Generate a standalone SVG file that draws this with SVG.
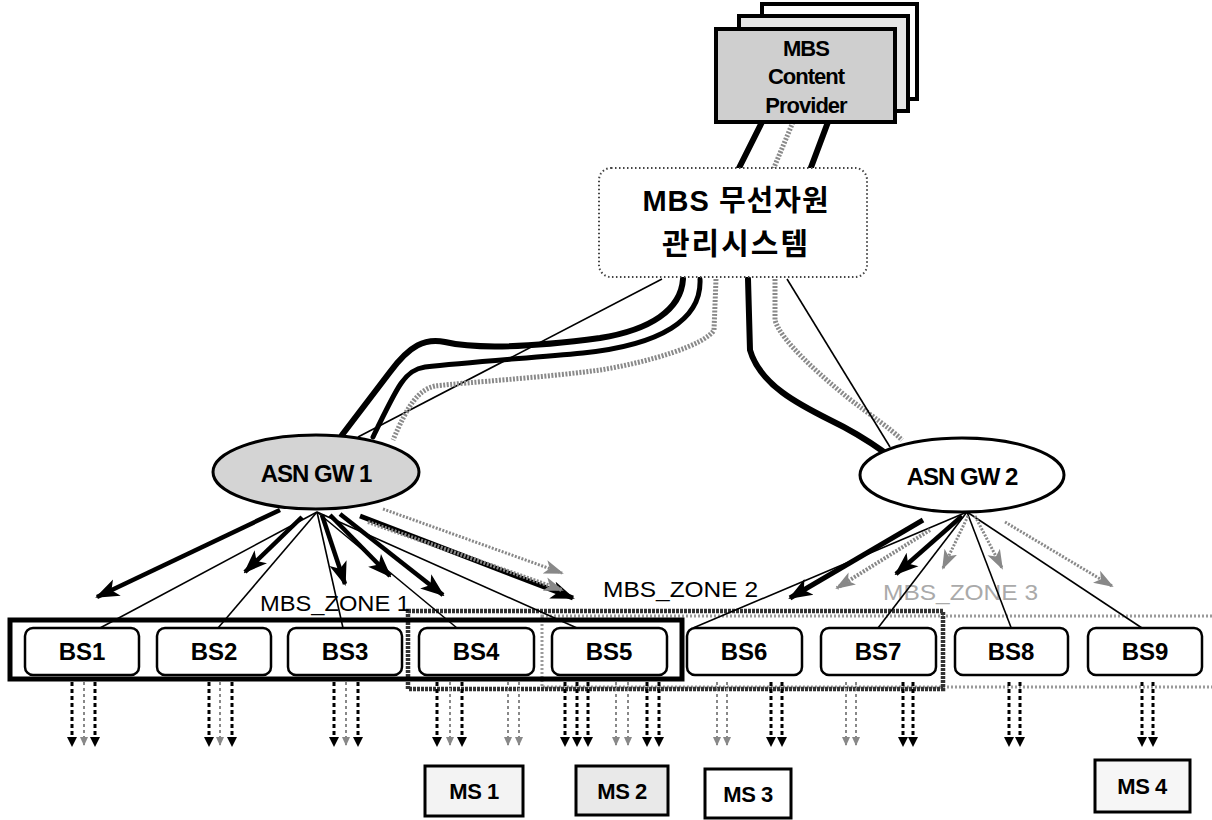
<svg xmlns="http://www.w3.org/2000/svg" width="1212" height="820" viewBox="0 0 1212 820">
<defs>
<marker id="ahB" markerUnits="userSpaceOnUse" markerWidth="24" markerHeight="20" refX="22" refY="10" orient="auto"><path d="M0,1 L24,10 L0,19 L6,10 Z" fill="#000"/></marker>
<marker id="ahG" markerUnits="userSpaceOnUse" markerWidth="20" markerHeight="16" refX="18" refY="8" orient="auto"><path d="M0,1 L20,8 L0,15 L5,8 Z" fill="#888"/></marker>
<marker id="ahSd" markerUnits="userSpaceOnUse" markerWidth="10" markerHeight="10" refX="5" refY="8" orient="0"><path d="M0,0 L10,0 L5,10 Z" fill="#000"/></marker>
<marker id="ahSl" markerUnits="userSpaceOnUse" markerWidth="10" markerHeight="10" refX="5" refY="8" orient="0"><path d="M1,0 L9,0 L5,9 Z" fill="#888"/></marker>
</defs>
<style>
text{font-family:"Liberation Sans","Noto Sans CJK KR",Arial,sans-serif;fill:#000}
.b{font-weight:bold}
.thick{fill:none;stroke:#000;stroke-width:6;stroke-linecap:round}
.gthick{fill:none;stroke:#8a8a8a;stroke-width:5;stroke-dasharray:2 1.5}
.thin{fill:none;stroke:#000;stroke-width:1.6}
.arr{fill:none;stroke:#000;stroke-width:4.5;marker-end:url(#ahB)}
.garr{fill:none;stroke:#888;stroke-width:4;stroke-dasharray:2 1.5;marker-end:url(#ahG)}
.dd{stroke:#000;stroke-width:3;stroke-dasharray:4 3;marker-end:url(#ahSd)}
.dl{stroke:#888;stroke-width:2;stroke-dasharray:3 3;marker-end:url(#ahSl)}
.bs{fill:#fff;stroke:#000;stroke-width:2.5}
.ms{stroke:#000;stroke-width:3}
</style>

<g id="zones">
<rect x="542" y="616" width="672" height="71" fill="none" stroke="#9a9a9a" stroke-width="3" stroke-dasharray="2 2"/>
<rect x="408" y="611" width="535" height="78" fill="none" stroke="#333" stroke-width="4.5" stroke-dasharray="3 1"/>
<rect x="10" y="620" width="672" height="59" fill="none" stroke="#000" stroke-width="5"/>
<text x="260" y="611" font-size="22" textLength="150" lengthAdjust="spacingAndGlyphs">MBS_ZONE 1</text>
<text x="603" y="597" font-size="22" textLength="155" lengthAdjust="spacingAndGlyphs">MBS_ZONE 2</text>
<text x="883" y="600" font-size="22" textLength="155" lengthAdjust="spacingAndGlyphs" style="fill:#aaa">MBS_ZONE 3</text>
</g>

<g id="connectors">
<line x1="762" y1="122" x2="738" y2="170" class="thick"/>
<line x1="793" y1="122" x2="773" y2="170" class="gthick"/>
<line x1="828" y1="122" x2="810" y2="170" class="thick"/>
<path class="thin" d="M662,279 L358,437"/>
<path class="thick" d="M683,279 C681,310 650,330 600,338 C540,346 480,350 445,342 C425,338 410,345 390,372 L342,435"/>
<path class="thick" style="stroke-width:5" d="M700,279 C702,320 660,345 583,353 C530,358 470,362 425,367 C405,370 398,385 373,437"/>
<path class="gthick" d="M716,279 L714,330 C705,345 650,362 600,370 C540,378 470,382 435,386 C418,390 408,405 393,440"/>
<path class="thick" d="M748,279 L750,350 C760,385 800,405 830,420 C855,432 870,442 884,452"/>
<path class="gthick" d="M775,279 L775,320 C780,340 820,375 847,397 C870,415 890,428 902,440"/>
<path class="thin" d="M787,279 L890,447"/>
<line x1="317" y1="512" x2="100" y2="628" class="thin"/>
<line x1="317" y1="512" x2="218" y2="628" class="thin"/>
<line x1="317" y1="512" x2="343" y2="628" class="thin"/>
<line x1="317" y1="512" x2="457" y2="628" class="thin"/>
<line x1="317" y1="512" x2="577" y2="628" class="thin"/>
<line x1="280" y1="510" x2="97" y2="597" class="arr"/>
<line x1="302" y1="517" x2="245" y2="572" class="arr"/>
<line x1="322" y1="515" x2="345" y2="584" class="arr"/>
<line x1="330" y1="515" x2="390" y2="576" class="arr"/>
<line x1="340" y1="514" x2="443" y2="595" class="arr"/>
<line x1="360" y1="516" x2="573" y2="598" class="arr" style="stroke-width:5"/>
<line x1="368" y1="522" x2="562" y2="590" class="garr"/>
<line x1="383" y1="509" x2="562" y2="573" class="garr" style="stroke-width:3"/>
<line x1="967" y1="512" x2="693" y2="628" class="thin"/>
<line x1="967" y1="512" x2="878" y2="628" class="thin"/>
<line x1="967" y1="512" x2="1012" y2="630" class="thin"/>
<line x1="967" y1="512" x2="1145" y2="630" class="thin"/>
<line x1="923" y1="520" x2="790" y2="598" class="arr" style="stroke-width:5"/>
<line x1="930" y1="530" x2="837" y2="588" class="garr"/>
<line x1="962" y1="516" x2="896" y2="574" class="arr"/>
<line x1="968" y1="516" x2="943" y2="568" class="garr" style="stroke-width:3"/>
<line x1="975" y1="516" x2="1002" y2="568" class="garr" style="stroke-width:3"/>
<line x1="1005" y1="522" x2="1112" y2="586" class="garr" style="stroke-width:3"/>
<g>
<line x1="72" y1="682" x2="72" y2="745" class="dd"/><line x1="84" y1="682" x2="84" y2="745" class="dl"/><line x1="95" y1="682" x2="95" y2="745" class="dd"/>
<line x1="209" y1="682" x2="209" y2="745" class="dd"/><line x1="220" y1="682" x2="220" y2="745" class="dl"/><line x1="232" y1="682" x2="232" y2="745" class="dd"/>
<line x1="334" y1="682" x2="334" y2="745" class="dd"/><line x1="346" y1="682" x2="346" y2="745" class="dl"/><line x1="358" y1="682" x2="358" y2="745" class="dd"/>
<line x1="437" y1="682" x2="437" y2="745" class="dd"/><line x1="450" y1="682" x2="450" y2="745" class="dl"/><line x1="462" y1="682" x2="462" y2="745" class="dd"/>
<line x1="508" y1="682" x2="508" y2="745" class="dl"/><line x1="519" y1="682" x2="519" y2="745" class="dl"/>
<line x1="565" y1="682" x2="565" y2="745" class="dd"/><line x1="577" y1="682" x2="577" y2="745" class="dd"/><line x1="588" y1="682" x2="588" y2="745" class="dd"/>
<line x1="616" y1="682" x2="616" y2="745" class="dl"/><line x1="628" y1="682" x2="628" y2="745" class="dl"/>
<line x1="647" y1="682" x2="647" y2="745" class="dd"/><line x1="659" y1="682" x2="659" y2="745" class="dd"/>
<line x1="717" y1="682" x2="717" y2="745" class="dl"/><line x1="727" y1="682" x2="727" y2="745" class="dl"/>
<line x1="771" y1="682" x2="771" y2="745" class="dd"/><line x1="782" y1="682" x2="782" y2="745" class="dd"/>
<line x1="846" y1="682" x2="846" y2="745" class="dl"/><line x1="856" y1="682" x2="856" y2="745" class="dl"/>
<line x1="903" y1="682" x2="903" y2="745" class="dd"/><line x1="913" y1="682" x2="913" y2="745" class="dd"/>
<line x1="1009" y1="682" x2="1009" y2="745" class="dd"/><line x1="1020" y1="682" x2="1020" y2="745" class="dd"/>
<line x1="1142" y1="682" x2="1142" y2="745" class="dd"/><line x1="1153" y1="682" x2="1153" y2="745" class="dd"/>
</g>
</g>

<g id="provider">
<rect x="762" y="4" width="155" height="95" fill="#fff" stroke="#000" stroke-width="4"/>
<rect x="739" y="16" width="169" height="95" fill="#e6e6e6" stroke="#000" stroke-width="4"/>
<rect x="716" y="29" width="179" height="93" fill="#cfcfcf" stroke="#000" stroke-width="4"/>
<text x="806" y="56" font-size="22" class="b" text-anchor="middle" letter-spacing="-1">MBS</text>
<text x="806" y="84" font-size="22" class="b" text-anchor="middle" letter-spacing="-1">Content</text>
<text x="806" y="113" font-size="22" class="b" text-anchor="middle" letter-spacing="-1">Provider</text>
</g>

<g id="mgmt">
<rect x="599" y="168" width="268" height="109" rx="12" fill="#fff" stroke="#444" stroke-width="2" stroke-dasharray="1.5 2.5"/>
<text x="736" y="211" font-size="29" class="b" text-anchor="middle" letter-spacing="1">MBS 무선자원</text>
<text x="736" y="254" font-size="30" class="b" text-anchor="middle" letter-spacing="2">관리시스템</text>
</g>

<g id="gw1">
<ellipse cx="316" cy="472" rx="103" ry="37" fill="#d4d4d4" stroke="#000" stroke-width="3"/>
<text x="316" y="482" font-size="24" class="b" text-anchor="middle" letter-spacing="-1">ASN GW 1</text>
</g>
<g id="gw2">
<ellipse cx="962" cy="475" rx="102" ry="37" fill="#fff" stroke="#000" stroke-width="3"/>
<text x="962" y="485" font-size="24" class="b" text-anchor="middle" letter-spacing="-1">ASN GW 2</text>
</g>

<g id="bs1"><rect class="bs" x="25" y="628" width="114" height="47" rx="8"/><text x="82" y="660" font-size="24" class="b" text-anchor="middle">BS1</text></g>
<g id="bs2"><rect class="bs" x="157" y="628" width="114" height="47" rx="8"/><text x="214" y="660" font-size="24" class="b" text-anchor="middle">BS2</text></g>
<g id="bs3"><rect class="bs" x="288" y="628" width="114" height="47" rx="8"/><text x="345" y="660" font-size="24" class="b" text-anchor="middle">BS3</text></g>
<g id="bs4"><rect class="bs" x="419" y="628" width="115" height="47" rx="8"/><text x="476" y="660" font-size="24" class="b" text-anchor="middle">BS4</text></g>
<g id="bs5"><rect class="bs" x="552" y="628" width="115" height="47" rx="8"/><text x="609" y="660" font-size="24" class="b" text-anchor="middle">BS5</text></g>
<g id="bs6"><rect class="bs" x="687" y="628" width="115" height="47" rx="8"/><text x="744" y="660" font-size="24" class="b" text-anchor="middle">BS6</text></g>
<g id="bs7"><rect class="bs" x="821" y="628" width="115" height="47" rx="8"/><text x="878" y="660" font-size="24" class="b" text-anchor="middle">BS7</text></g>
<g id="bs8"><rect class="bs" x="955" y="628" width="113" height="47" rx="8"/><text x="1011" y="660" font-size="24" class="b" text-anchor="middle">BS8</text></g>
<g id="bs9"><rect class="bs" x="1088" y="628" width="114" height="47" rx="8"/><text x="1145" y="660" font-size="24" class="b" text-anchor="middle">BS9</text></g>

<g id="ms1"><rect class="ms" x="425" y="766" width="98" height="50" fill="#f3f3f3"/><text x="474" y="799" font-size="22" class="b" text-anchor="middle" letter-spacing="-0.5">MS 1</text></g>
<g id="ms2"><rect class="ms" x="576" y="766" width="92" height="49" fill="#e9e9e9"/><text x="622" y="799" font-size="22" class="b" text-anchor="middle" letter-spacing="-0.5">MS 2</text></g>
<g id="ms3"><rect class="ms" x="705" y="769" width="86" height="49" fill="#fff"/><text x="748" y="802" font-size="22" class="b" text-anchor="middle" letter-spacing="-0.5">MS 3</text></g>
<g id="ms4"><rect class="ms" x="1095" y="760" width="95" height="52" fill="#f6f6f6"/><text x="1142" y="794" font-size="22" class="b" text-anchor="middle" letter-spacing="-0.5">MS 4</text></g>
</svg>
